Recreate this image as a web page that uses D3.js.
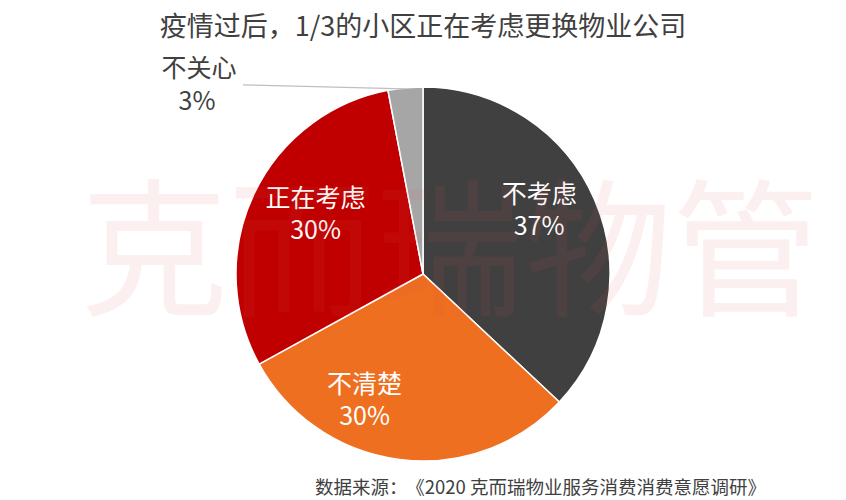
<!DOCTYPE html>
<html><head><meta charset="utf-8">
<script src="https://cdn.jsdelivr.net/npm/d3@7"></script>
<style>
html,body{margin:0;padding:0;background:#fff;}
svg{display:block;font-family:"Noto Sans CJK SC","Noto Sans",sans-serif;}
</style></head>
<body>
<svg id="chart" width="846" height="500"></svg>
<script>
const title = "疫情过后，1/3的小区正在考虑更换物业公司";
const sourceLead = "数据来源：";
const sourceBody = "《2020 克而瑞物业服务消费消费意愿调研》";
const watermark = "克而瑞物管";
const categories = ["不考虑", "不清楚", "正在考虑", "不关心"];
const values = [37, 30, 30, 3];
const colors = ["#404040", "#EE6F1F", "#C00000", "#A6A6A6"];
// label layout: inside flag and small nudges from centroid
const labelInside = [true, true, true, false];
const labelNudge = [[-4, -12], [-42, -4], [11, -4], [0, 0]];

const svg = d3.select("#chart");
const W = 846, H = 500;
const cx = 423, cy = 274, R = 187;

svg.append("rect").attr("width", W).attr("height", H).attr("fill", "#fff");

const total = d3.sum(values);
const pie = d3.pie().sort(null).value(d => d)(values);
const arc = d3.arc().innerRadius(0).outerRadius(R);
const labelArc = d3.arc().innerRadius(R * 0.7).outerRadius(R * 0.7);

const g = svg.append("g").attr("transform", `translate(${cx},${cy})`);
g.selectAll("path.slice").data(pie).join("path")
  .attr("class", "slice")
  .attr("d", arc)
  .attr("fill", (d, i) => colors[i])
  .attr("stroke", "#fff")
  .attr("stroke-width", 1.5)
  .attr("stroke-linejoin", "round");

// watermark on top, faint
svg.append("text")
  .attr("x", cx + 27).attr("y", 304)
  .attr("text-anchor", "middle")
  .attr("font-size", 148)
  .attr("fill", "#E05050")
  .attr("fill-opacity", 0.09)
  .text(watermark);

// labels
pie.forEach((d, i) => {
  const pct = Math.round(d.data / total * 100) + "%";
  if (labelInside[i]) {
    const [x, y] = labelArc.centroid(d);
    const t = g.append("text")
      .attr("text-anchor", "middle")
      .attr("fill", "#fff")
      .attr("font-size", 25)
      .attr("transform", `translate(${x + labelNudge[i][0]},${y + labelNudge[i][1]})`);
    t.append("tspan").attr("x", 0).attr("y", -7).text(categories[i]);
    t.append("tspan").attr("x", 0).attr("y", 25).text(pct);
  } else {
    const mid = (d.startAngle + d.endAngle) / 2;
    const ex = Math.sin(mid) * R, ey = -Math.cos(mid) * (R - 1);
    const lx = -180, ly = ey - 4;
    g.append("line")
      .attr("x1", ex).attr("y1", ey)
      .attr("x2", lx).attr("y2", ly)
      .attr("stroke", "#BFBFBF").attr("stroke-width", 1.2);
    const t = g.append("text")
      .attr("text-anchor", "middle")
      .attr("fill", "#404040")
      .attr("font-size", 25)
      .attr("transform", `translate(${lx - 44},${ly})`);
    t.append("tspan").attr("x", 0).attr("y", -8).text(categories[i]);
    t.append("tspan").attr("x", -2).attr("y", 25).text(pct);
  }
});

svg.append("text")
  .attr("x", cx).attr("y", 36)
  .attr("text-anchor", "middle")
  .attr("font-size", 27)
  .attr("fill", "#404040")
  .text(title);

const src = svg.append("text")
  .attr("x", 315).attr("y", 494)
  .attr("font-size", 18.5)
  .attr("fill", "#404040");
src.append("tspan").text(sourceLead);
src.append("tspan").attr("dx", 8).text(sourceBody);
</script>
</body></html>
